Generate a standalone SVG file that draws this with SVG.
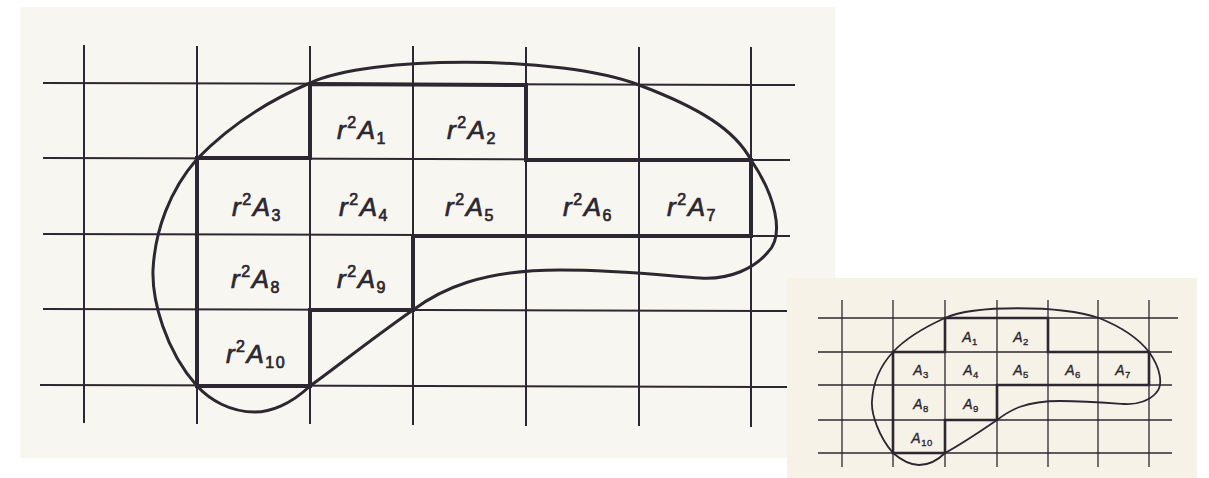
<svg xmlns="http://www.w3.org/2000/svg" width="1209" height="478" viewBox="0 0 1209 478">
<style>
.grid{stroke:#2c2730;stroke-width:2;fill:none}
.thick{stroke:#2c2730;stroke-width:4;fill:none;stroke-linejoin:miter}
.blob{stroke:#2c2730;stroke-width:3;fill:none}
.grid2{stroke:#2c2730;stroke-width:1.3;fill:none}
.thick2{stroke:#2c2730;stroke-width:2.6;fill:none}
.blob2{stroke:#2c2730;stroke-width:1.8;fill:none}
.lbl{font-family:"Liberation Sans",Arial,sans-serif;font-size:26px;fill:#2c2730;stroke:#2c2730;stroke-width:0.7;letter-spacing:1.5px;text-anchor:middle}
.lbl2{font-family:"Liberation Sans",Arial,sans-serif;font-size:14px;fill:#2c2730;stroke:#2c2730;stroke-width:0.35;letter-spacing:0.5px;text-anchor:middle}
.v{font-style:italic}
.s{font-size:16px}
.s2{font-size:9.5px}
</style>
<rect x="0" y="0" width="1209" height="478" fill="#ffffff"/>
<rect x="20" y="7" width="815" height="451" fill="#f8f6f0"/>
<rect x="787" y="278" width="410" height="200" fill="#f6f2e8"/>

<g id="big-grid">
<line class="grid" x1="43" y1="83" x2="795" y2="85"/>
<line class="grid" x1="43" y1="158" x2="790" y2="160"/>
<line class="grid" x1="43" y1="234" x2="790" y2="236"/>
<line class="grid" x1="43" y1="309" x2="787" y2="311"/>
<line class="grid" x1="40" y1="385" x2="787" y2="387"/>
<line class="grid" x1="84" y1="45" x2="84" y2="423"/>
<line class="grid" x1="197" y1="46" x2="197" y2="424"/>
<line class="grid" x1="310" y1="46" x2="310" y2="424"/>
<line class="grid" x1="413" y1="46" x2="413" y2="425"/>
<line class="grid" x1="526" y1="47" x2="526" y2="426"/>
<line class="grid" x1="639" y1="47" x2="639" y2="426"/>
<line class="grid" x1="751" y1="47" x2="751" y2="427"/>
</g>
<g id="big-region">
<path class="thick" d="M310 84 L526 85 L526 160 L751 160 L751 236 L413 236 L413 310 L310 310 L310 386 L197 386 L197 158 L310 158 Z"/>
</g>
<g id="big-blob">
<path class="blob" d="M310 83 C370 55 560 55 639 85 C700 108 735 130 751 160 C775 195 785 235 768 252 C755 268 730 280 700 278 C670 276 620 270 560 270 C480 270 440 290 413 310 C370 340 330 372 310 386 C290 405 270 412 255 412 C230 412 210 400 197 386 C165 350 152 300 153 270 C155 230 170 190 197 159 C230 125 270 100 310 83 Z"/>
</g>
<g id="big-labels">
<text class="lbl" x="362" y="139"><tspan class="v">r</tspan><tspan class="s" dy="-11">2</tspan><tspan class="v" dy="11">A</tspan><tspan class="s" dy="5">1</tspan></text>
<text class="lbl" x="472" y="139"><tspan class="v">r</tspan><tspan class="s" dy="-11">2</tspan><tspan class="v" dy="11">A</tspan><tspan class="s" dy="5">2</tspan></text>
<text class="lbl" x="257" y="216"><tspan class="v">r</tspan><tspan class="s" dy="-11">2</tspan><tspan class="v" dy="11">A</tspan><tspan class="s" dy="5">3</tspan></text>
<text class="lbl" x="364" y="216"><tspan class="v">r</tspan><tspan class="s" dy="-11">2</tspan><tspan class="v" dy="11">A</tspan><tspan class="s" dy="5">4</tspan></text>
<text class="lbl" x="470" y="216"><tspan class="v">r</tspan><tspan class="s" dy="-11">2</tspan><tspan class="v" dy="11">A</tspan><tspan class="s" dy="5">5</tspan></text>
<text class="lbl" x="588" y="216"><tspan class="v">r</tspan><tspan class="s" dy="-11">2</tspan><tspan class="v" dy="11">A</tspan><tspan class="s" dy="5">6</tspan></text>
<text class="lbl" x="692" y="216"><tspan class="v">r</tspan><tspan class="s" dy="-11">2</tspan><tspan class="v" dy="11">A</tspan><tspan class="s" dy="5">7</tspan></text>
<text class="lbl" x="256" y="288"><tspan class="v">r</tspan><tspan class="s" dy="-11">2</tspan><tspan class="v" dy="11">A</tspan><tspan class="s" dy="5">8</tspan></text>
<text class="lbl" x="362" y="288"><tspan class="v">r</tspan><tspan class="s" dy="-11">2</tspan><tspan class="v" dy="11">A</tspan><tspan class="s" dy="5">9</tspan></text>
<text class="lbl" x="256" y="363"><tspan class="v">r</tspan><tspan class="s" dy="-11">2</tspan><tspan class="v" dy="11">A</tspan><tspan class="s" dy="5">10</tspan></text>
</g>

<g id="small-grid">
<line class="grid2" x1="818" y1="318" x2="1178" y2="318"/>
<line class="grid2" x1="818" y1="352" x2="1172" y2="352"/>
<line class="grid2" x1="818" y1="385" x2="1172" y2="385"/>
<line class="grid2" x1="818" y1="420" x2="1172" y2="420"/>
<line class="grid2" x1="818" y1="453" x2="1172" y2="453"/>
<line class="grid2" x1="842" y1="300" x2="842" y2="467"/>
<line class="grid2" x1="893" y1="300" x2="893" y2="467"/>
<line class="grid2" x1="945" y1="300" x2="945" y2="467"/>
<line class="grid2" x1="997" y1="300" x2="997" y2="467"/>
<line class="grid2" x1="1048" y1="300" x2="1048" y2="467"/>
<line class="grid2" x1="1098" y1="300" x2="1098" y2="467"/>
<line class="grid2" x1="1149" y1="300" x2="1149" y2="467"/>
</g>
<g id="small-region">
<path class="thick2" d="M945 318 L1048 318 L1048 352 L1149 352 L1149 385 L997 385 L997 420 L945 420 L945 453 L893 453 L893 352 L945 352 Z"/>
</g>
<g id="small-blob">
<path class="blob2" d="M945 318 C973 305 1060 305 1099 318 C1124 328 1139 339 1149 352 C1160 367 1164 385 1156 393 C1150 400 1138 405 1124 404 C1110 403 1088 401 1060 401 C1025 401 1010 410 997 420 C978 433 958 446 945 453 C936 462 926 465 919 465 C908 465 900 459 893 453 C879 437 871 414 872 401 C873 383 880 366 893 352 C906 338 925 327 945 318 Z"/>
</g>
<g id="small-labels">
<text class="lbl2" x="970" y="342"><tspan class="v">A</tspan><tspan class="s2" dy="3">1</tspan></text>
<text class="lbl2" x="1021" y="342"><tspan class="v">A</tspan><tspan class="s2" dy="3">2</tspan></text>
<text class="lbl2" x="921" y="375"><tspan class="v">A</tspan><tspan class="s2" dy="3">3</tspan></text>
<text class="lbl2" x="971" y="375"><tspan class="v">A</tspan><tspan class="s2" dy="3">4</tspan></text>
<text class="lbl2" x="1021" y="375"><tspan class="v">A</tspan><tspan class="s2" dy="3">5</tspan></text>
<text class="lbl2" x="1073" y="375"><tspan class="v">A</tspan><tspan class="s2" dy="3">6</tspan></text>
<text class="lbl2" x="1123" y="375"><tspan class="v">A</tspan><tspan class="s2" dy="3">7</tspan></text>
<text class="lbl2" x="921" y="409"><tspan class="v">A</tspan><tspan class="s2" dy="3">8</tspan></text>
<text class="lbl2" x="971" y="409"><tspan class="v">A</tspan><tspan class="s2" dy="3">9</tspan></text>
<text class="lbl2" x="922" y="443"><tspan class="v">A</tspan><tspan class="s2" dy="3">10</tspan></text>
</g>
</svg>
